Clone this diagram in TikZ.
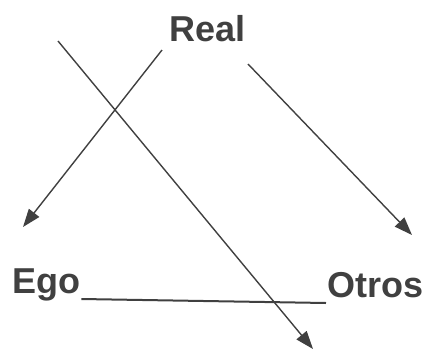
\documentclass[tikz,border=0pt]{standalone}
\usepackage{fontspec}
\setmainfont{Liberation Sans}
\usetikzlibrary{arrows.meta,calc}
\definecolor{ink}{HTML}{404040}
\begin{document}
\begin{tikzpicture}[x=1bp,y=-1bp,
  lbl/.style={inner sep=0pt,anchor=base west,text=ink,font=\fontsize{36bp}{40bp}\selectfont\bfseries},
  arr/.style={draw=ink,line width=1.4bp,-{Triangle[length=18bp,width=13bp]}}]
\useasboundingbox (0,0) rectangle (430,355);
\node[lbl] (real) at (169,41) {Real};
\node[lbl] (ego) at (12,293) {Ego};
\node[lbl] (otros) at (327,297) {Otros};
\coordinate (a1) at (162,50); \coordinate (b1) at (23,227);
\coordinate (a2) at (248,64); \coordinate (b2) at (412,235);
\coordinate (a3) at (58,41);  \coordinate (b3) at (313,349);
\draw[arr] (a1)--(b1);
\draw[arr] (a2)--(b2);
\draw[arr] (a3)--(b3);
\draw[draw=ink,line width=2bp] ($(ego.base east)+(1,6)$)--($(otros.base west)+(-1,6)$);
\end{tikzpicture}
\end{document}
